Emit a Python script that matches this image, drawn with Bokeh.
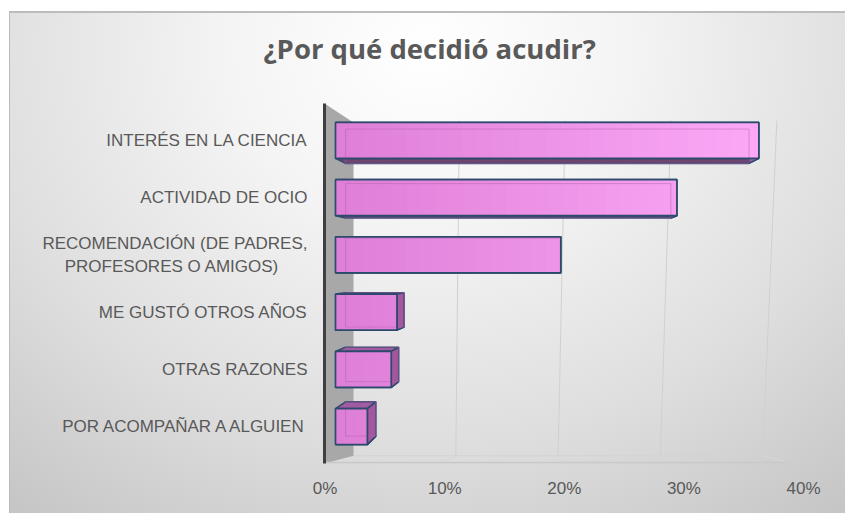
import numpy as np
from bokeh.plotting import figure
from bokeh.models import Range1d, LinearAxis, FixedTicker, NumeralTickFormatter, ColumnDataSource, Title
from bokeh.embed import file_html
from bokeh.resources import INLINE

# ---------------- data ----------------
title_text = "¿Por qué decidió acudir?"
categories = [
    "INTERÉS EN LA CIENCIA",
    "ACTIVIDAD DE OCIO",
    "RECOMENDACIÓN (DE PADRES,\nPROFESORES O AMIGOS)" + "\u00a0" * 6,
    "ME GUSTÓ OTROS AÑOS",
    "OTRAS RAZONES",
    "POR ACOMPAÑAR A ALGUIEN",
]
values = [0.372, 0.300, 0.198, 0.054, 0.049, 0.028]
x_ticks = [0.0, 0.1, 0.2, 0.3, 0.4]
y_pos = [5, 4, 3, 2, 1, 0]

TEXT = "#595959"
EDGE = "#2c4a6b"
PX = 1138.0  # px per unit on the bar scale

p = figure(
    width=836, height=502, output_backend="svg", toolbar_location=None,
    x_range=Range1d(-11 / PX, 480 / PX), y_range=Range1d(-0.645, 5.645),
    x_axis_location=None,
    min_border_left=315, min_border_right=30, min_border_top=92, min_border_bottom=50,
    border_fill_color=None, background_fill_color=None, outline_line_color=None,
)
p.styles = {
    "background": "radial-gradient(ellipse 80% 115% at 50% 8%, #ffffff 0%, #f4f4f4 30%, #dedede 68%, #c6c6c6 100%)",
    "box-shadow": "inset 1px 2px 0 #bcbcbc",
    "margin-left": "9px",
    "margin-top": "11px",
}
p.grid.visible = False

# spacer between frame and title (keeps the title higher up)
p.add_layout(Title(text=" ", text_font_size="10px", standoff=24), "above")

# title
p.title.text = title_text
p.title.align = "left"
p.title.offset = -61
p.title.standoff = 0
p.title.text_font = "Open Sans"
p.title.text_font_style = "bold"
p.title.text_font_size = "27.5px"
p.title.text_color = TEXT

# tick-label axis (its own scale)
p.extra_x_ranges = {"ticks": Range1d(-0.0005, 0.41)}
xa = LinearAxis(x_range_name="ticks", ticker=FixedTicker(ticks=x_ticks),
                formatter=NumeralTickFormatter(format="0%"))
xa.axis_line_color = None
xa.major_tick_line_color = None
xa.minor_tick_line_color = None
xa.major_label_text_font = "Liberation Sans"
xa.major_label_text_font_size = "17px"
xa.major_label_text_color = TEXT
xa.major_label_standoff = 9
p.add_layout(xa, "below")

ya = p.yaxis[0]
ya.ticker = FixedTicker(ticks=y_pos)
ya.major_label_overrides = {y: c for y, c in zip(y_pos, categories)}
ya.axis_line_color = "#3f3f3f"
ya.axis_line_width = 3
ya.major_tick_line_color = None
ya.minor_tick_line_color = None
ya.major_label_text_font = "Liberation Sans"
ya.major_label_text_font_size = "17px"
ya.major_label_text_color = TEXT
ya.major_label_standoff = 11

# ---------------- 3D decoration: side wall, floor, back grid ----------------
y0, y1 = p.y_range.start, p.y_range.end
x_left = p.x_range.start
wall_x = 18 / PX
floor_back = -0.509
floor_front = -0.631
p.patch(x=[x_left, wall_x, wall_x, x_left], y=[y1, y1 - 0.332, floor_back, y0],
        fill_color="#a8a8a8", line_color=None)

gt = x_ticks[1:]
top_x = [wall_x + t * 0.93 for t in gt]
bot_x = [wall_x + t * 0.899 for t in gt]
front_x = [(-11 + t * 1160) / PX for t in gt]
n = len(gt)
p.segment(x0=top_x, y0=[y1 - 0.30] * n, x1=bot_x, y1=[floor_back] * n,
          line_color="#d0d0d0", line_width=1)
p.segment(x0=bot_x, y0=[floor_back] * n, x1=front_x, y1=[floor_front] * n,
          line_color="#d6d6d6", line_width=1)
p.segment(x0=[wall_x], y0=[floor_back], x1=[bot_x[-1]], y1=[floor_back],
          line_color="#d4d4d4", line_width=1)
p.segment(x0=[x_left], y0=[floor_front], x1=[front_x[-1]], y1=[floor_front],
          line_color="#c9c9c9", line_width=2)

# ---------------- bars (perspective boxes) ----------------
hh = 0.315
xV, yV, s = 214 / PX, 2.83, 0.953


def back(x, y):
    return xV + s * (x - xV), yV + s * (y - yV)


face_xs, face_ys, face_cols = [], [], []
bk_l, bk_r, bk_b, bk_t = [], [], [], []
for y, v in zip(y_pos, values):
    yb, yt = y - hh, y + hh
    bxl, byb = back(0.0, yb)
    bxr, byt = back(v, yt)
    bk_l.append(bxl); bk_r.append(bxr); bk_b.append(byb); bk_t.append(byt)
    face_xs.append([0.0, v, bxr, bxl]); face_ys.append([yb, yb, byb, byb]); face_cols.append("#6c4570")
    face_xs.append([0.0, v, bxr, bxl]); face_ys.append([yt, yt, byt, byt]); face_cols.append("#a15ba1")
    face_xs.append([v, v, bxr, bxr]); face_ys.append([yb, yt, byt, byb]); face_cols.append("#a4579f")
p.patches(xs=face_xs, ys=face_ys, fill_color=face_cols, line_color=EDGE, line_width=1.5)

# front face with a left-to-right colour ramp
c0 = np.array([222, 126, 215])
c1 = np.array([252, 168, 247])
sl, sr, sb, st, sc = [], [], [], [], []
for y, v in zip(y_pos, values):
    m = max(2, int(v / 0.4 * 32) + 1)
    edges = np.linspace(0, v, m + 1)
    step = edges[1] - edges[0]
    for a, b in zip(edges[:-1], edges[1:]):
        f = min(1.0, ((a + b) / 2) / 0.372)
        col = c0 + (c1 - c0) * f
        sl.append(a); sr.append(min(v, b + 0.6 * step)); sb.append(y - hh); st.append(y + hh)
        sc.append("#%02x%02x%02x" % tuple(int(round(c)) for c in col))
p.quad(left=sl, right=sr, bottom=sb, top=st, fill_color=sc, line_color=None)

# back edges seen through the translucent front
p.quad(left=bk_l, right=bk_r, bottom=bk_b, top=bk_t,
       fill_color=None, line_color="#b862b2", line_alpha=0.5, line_width=1)

src = ColumnDataSource(dict(y=y_pos, v=values))
p.hbar(y="y", left=0, right="v", height=2 * hh, source=src,
       fill_color=None, line_color=EDGE, line_width=1.7)

open("out.html", "w").write(file_html(p, INLINE))
